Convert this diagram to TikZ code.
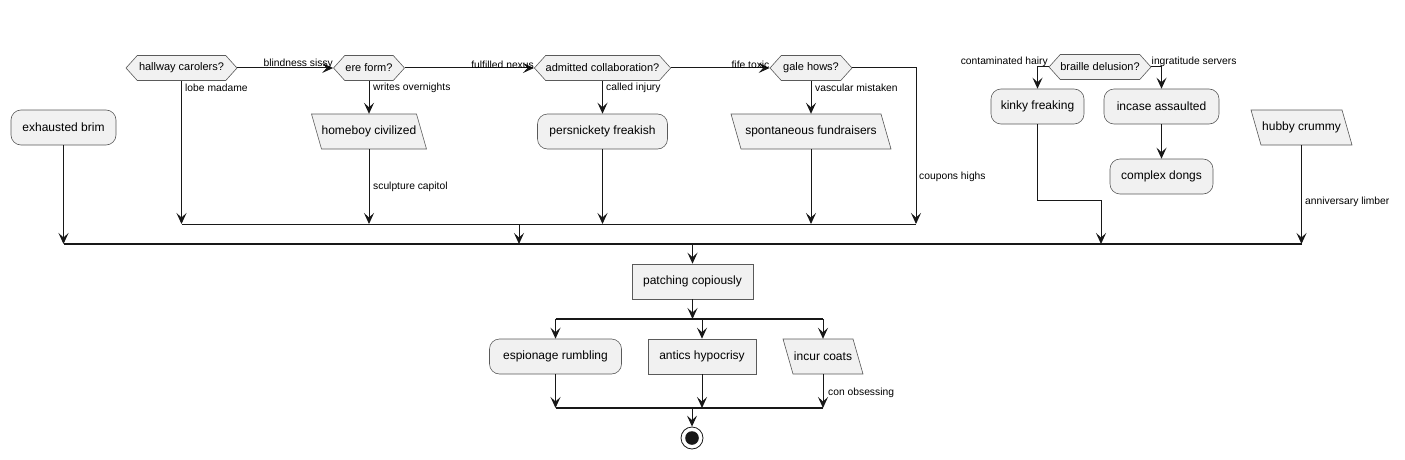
\documentclass[tikz,border=0pt]{standalone}
\usepackage{fontspec}
\setmainfont{Liberation Sans}
\usetikzlibrary{shapes.geometric,shapes.symbols,arrows.meta}
\definecolor{nfill}{HTML}{F1F1F1}
\definecolor{nbord}{HTML}{5A5A5A}
\definecolor{lcol}{HTML}{181818}
\newcommand\paranode[5]{%
  \filldraw[pshape] ({#2-#4/2},{#3-17.5}) -- ({#2+#4/2-10},{#3-17.5}) -- ({#2+#4/2},{#3+17.5}) -- ({#2-#4/2+10},{#3+17.5}) -- cycle;
  \node[ptext,minimum width={#4-10}] (#1) at (#2,#3) {#5};}
\begin{document}
\begin{tikzpicture}[x=1pt,y=-1pt,
  base/.style={draw=nbord,fill=nfill,line width=0.6pt,inner sep=0pt,minimum height=35pt,font=\fontsize{12}{14}\selectfont},
  rnode/.style={base,rectangle,rounded corners=10pt},
  bnode/.style={base,rectangle},
  pshape/.style={draw=nbord,fill=nfill,line width=0.6pt},
  ptext/.style={rectangle,inner sep=0pt,minimum height=35pt,font=\fontsize{12}{14}\selectfont},
  hnode/.style={draw=nbord,fill=nfill,line width=0.6pt,inner sep=0pt,shape=signal,signal to=west and east,signal pointer angle=96,minimum height=25pt,font=\fontsize{11}{13}\selectfont},
  lab/.style={inner sep=0pt,font=\fontsize{10.3}{12}\selectfont},
  conn/.style={draw=lcol,line width=1pt,-{Stealth[length=11pt,width=10pt,inset=4.5pt]}},
  line/.style={draw=lcol,line width=1pt},
  bar/.style={draw=lcol,line width=1.6pt}
]
\useasboundingbox (0,0) rectangle (1405,460);

% nodes
\node[rnode,minimum width=105pt] (brim) at (63.5,127.5) {exhausted brim};
\node[hnode,minimum width=111pt] (hc) at (181.5,68) {hallway carolers?};
\node[hnode,minimum width=71pt] (ef) at (369,68) {ere form?};
\paranode{hb}{369}{131.5}{115}{homeboy civilized}
\node[hnode,minimum width=133pt] (ac) at (602.5,68) {admitted collaboration?};
\node[rnode,minimum width=130pt] (pf) at (602.5,131.5) {persnickety freakish};
\node[hnode,minimum width=82pt] (gh) at (811,68) {gale hows?};
\paranode{sf}{811}{131.5}{160}{spontaneous fundraisers}
\node[hnode,minimum width=102pt] (bd) at (1100,67) {braille delusion?};
\node[rnode,minimum width=93pt] (kf) at (1037.5,106.5) {kinky freaking};
\node[rnode,minimum width=115pt] (ia) at (1161.5,106.5) {incase assaulted};
\node[rnode,minimum width=103pt] (cd) at (1161.5,176.5) {complex dongs};
\paranode{hcr}{1301.5}{127.5}{101}{hubby crummy}
\node[bnode,minimum width=121pt] (pc) at (692.5,281.5) {patching copiously};
\node[rnode,minimum width=132pt] (er) at (555.5,356.5) {espionage rumbling};
\node[bnode,minimum width=108pt] (ah) at (702,356.5) {antics hypocrisy};
\paranode{ic}{823}{356.5}{80}{incur coats}
\node[circle,draw=lcol,line width=0.8pt,minimum size=22pt,inner sep=0pt] (stop) at (692,438) {};
\fill[lcol] (stop.center) circle (6.8pt);

% bars
\coordinate (ibL) at (181.5,224); \coordinate (ibR) at (916,224);
\coordinate (obL) at (63.5,244); \coordinate (obR) at (1301.5,244);
\coordinate (fbL) at (555.5,319); \coordinate (fbR) at (823,319);
\coordinate (mbL) at (555.5,408); \coordinate (mbR) at (823,408);
\draw[line] (ibL) -- (ibR);
\draw[bar] (obL) -- (obR);
\draw[bar] (fbL) -- (fbR);
\draw[bar] (mbL) -- (mbR);

% top chain
\draw[conn] (brim.south) -- (obL);
\draw[conn] (hc.east) -- (ef.west);
\node[lab,anchor=south east] at ([yshift=-0.5pt]ef.west) {blindness sissy};
\draw[conn] (hc.south) -- (ibL);
\node[lab,anchor=west] at (185,88) {lobe madame};
\draw[conn] (ef.east) -- (ac.west);
\node[lab,anchor=south east] at ([yshift=-0.5pt]ac.west) {fulfilled nexus};
\draw[conn] (ef.south) -- (hb.north);
\node[lab,anchor=west] at (373,88) {writes overnights};
\draw[conn] (hb.south) -- (hb.south |- ibL);
\node[lab,anchor=west] at (373,187) {sculpture capitol};
\draw[conn] (ac.east) -- (gh.west);
\node[lab,anchor=south east] at ([yshift=-0.5pt]gh.west) {fife toxic};
\draw[conn] (ac.south) -- (pf.north);
\node[lab,anchor=west] at (606,88) {called injury};
\draw[conn] (pf.south) -- (pf.south |- ibL);
\draw[conn] (gh.south) -- (sf.north);
\node[lab,anchor=west] at (815,88) {vascular mistaken};
\draw[conn] (sf.south) -- (sf.south |- ibL);
\coordinate (ghR) at (916,68);
\draw[conn] (gh.east) -- (ghR) -- (ibR);
\node[lab,anchor=west] at (919,177) {coupons highs};
\coordinate (ibM) at (519,224);
\draw[conn] (ibM) -- (ibM |- obL);

% braille branch
\coordinate (bdL) at (1037.5,67); \coordinate (bdR) at (1161.5,67);
\draw[conn] (bd.west) -- (bdL) -- (kf.north);
\node[lab,anchor=south east] at (1048,67) {contaminated hairy};
\draw[conn] (bd.east) -- (bdR) -- (ia.north);
\node[lab,anchor=south west] at (1151.5,67) {ingratitude servers};
\draw[conn] (ia.south) -- (cd.north);
\coordinate (kfA) at (1037.5,200); \coordinate (kfB) at (1101,200);
\draw[conn] (kf.south) -- (kfA) -- (kfB) -- (kfB |- obL);
\draw[conn] (hcr.south) -- (obR);
\node[lab,anchor=west] at (1305,202) {anniversary limber};

% lower part
\coordinate (obM) at (692.5,244);
\draw[conn] (obM) -- (pc.north);
\draw[conn] (pc.south) -- (pc.south |- fbL);
\draw[conn] (fbL) -- (er.north);
\draw[conn] (ah.north |- fbL) -- (ah.north);
\draw[conn] (fbR) -- (ic.north);
\draw[conn] (er.south) -- (mbL);
\draw[conn] (ah.south) -- (ah.south |- mbL);
\draw[conn] (ic.south) -- (mbR);
\node[lab,anchor=west] at (828,393) {con obsessing};
\coordinate (mbM) at (692,408);
\draw[conn] (mbM) -- (stop.north);
\end{tikzpicture}
\end{document}
